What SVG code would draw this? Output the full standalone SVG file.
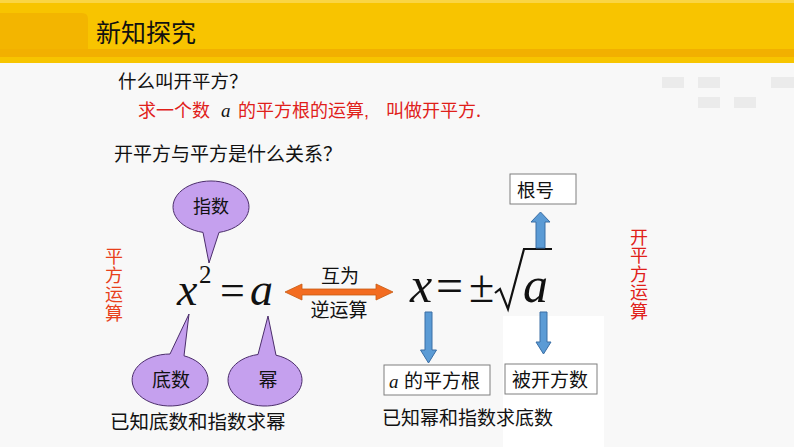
<svg xmlns="http://www.w3.org/2000/svg" width="794" height="447" viewBox="0 0 794 447">
<style>
.cjk{font-family:"Noto Sans CJK SC","Noto Sans",sans-serif;fill:#111}
.red{fill:#E0201A}
.vred{fill:#E8401C}
.vert{writing-mode:vertical-rl;font-family:"Noto Sans CJK SC","Noto Sans",sans-serif}
.math{font-family:"Liberation Serif","Times New Roman",serif;font-style:italic;fill:#111}
.mathr{font-family:"Liberation Serif","Times New Roman",serif;fill:#111}
.balloon{fill:#C5A0EE;stroke:#4B2D6B;stroke-width:1}
.blue{fill:#5B9BD5;stroke:#3A6EA5;stroke-width:1}
.box{fill:#fff;stroke:#7F7F7F;stroke-width:1}
.faint{fill:#EBEBEB}
</style>
<rect x="0" y="0" width="794" height="447" fill="#F8F8F8"/>
<rect x="503" y="316" width="101" height="131" fill="#FFFFFF"/>
<g id="decor">
<rect class="faint" x="662" y="77" width="22" height="11"/>
<rect class="faint" x="698" y="77" width="22" height="11"/>
<rect class="faint" x="771" y="77" width="23" height="11"/>
<rect class="faint" x="698" y="97" width="22" height="11"/>
<rect class="faint" x="734" y="97" width="22" height="11"/>
</g>
<g id="titlebar">
<rect x="0" y="0" width="794" height="63" fill="#F8C400"/>
<rect x="0" y="0" width="794" height="3" fill="#FAD545"/>
<rect x="0" y="49" width="794" height="8" fill="#F2B000"/>
<rect x="0" y="57" width="794" height="6" fill="#F7C500"/>
<path d="M0 13 H82 Q88 13 88 19 V49 H0 Z" fill="#F3B500"/>
<text class="cjk" x="96" y="42" font-size="25">新知探究</text>
</g>
<g id="questions">
<text class="cjk" x="118" y="88" font-size="18.5">什么叫开平方？</text>
<text class="cjk red" x="138" y="117" font-size="18">求一个数</text>
<text class="math red" x="221" y="117" font-size="19">a</text>
<text class="cjk red" x="238" y="117" font-size="18">的平方根的运算</text>
<text class="red" x="364" y="117" font-size="18" font-family="Liberation Sans, sans-serif">,</text>
<text class="cjk red" x="386" y="117" font-size="18">叫做开平方.</text>
<text class="cjk" x="114" y="161" font-size="19">开平方与平方是什么关系？</text>
</g>
<g id="label-pingfang">
<text class="vert vred" x="114" y="247" font-size="18" letter-spacing="1">平方运算</text>
</g>
<g id="label-kaipingfang">
<text class="vert red" x="639" y="228" font-size="18" letter-spacing="0.5">开平方运算</text>
</g>
<g id="balloon-zhishu">
<path class="balloon" d="M219 232.4 A38 26 0 1 0 203 232.4 L209 263 Z"/>
<text class="cjk" x="211" y="213" font-size="18" text-anchor="middle">指数</text>
</g>
<g id="balloon-dishu">
<path class="balloon" d="M170 354 L189 314 L184 355.8 A38 26 0 1 1 170 354 Z"/>
<text class="cjk" x="171" y="387" font-size="19" text-anchor="middle">底数</text>
</g>
<g id="balloon-mi">
<path class="balloon" d="M276 355.2 A37 26 0 1 1 258 354.5 L268 316 Z"/>
<text class="cjk" x="268" y="387" font-size="19" text-anchor="middle">幂</text>
</g>
<g id="formula-left">
<text class="math" x="177" y="305" font-size="46">x</text>
<text class="mathr" x="199" y="283" font-size="25">2</text>
<text class="mathr" x="220" y="305" font-size="44">=</text>
<text class="math" x="250" y="305" font-size="46">a</text>
</g>
<g id="formula-right">
<text class="math" x="410" y="302" font-size="50">x</text>
<text class="mathr" x="436" y="302" font-size="48">=</text>
<text class="mathr" x="469" y="302" font-size="46">±</text>
<path d="M495 293 L500 289 L508 309 L524 249 L552 249" fill="none" stroke="#111" stroke-width="2.2" stroke-linejoin="miter"/>
<text class="math" x="523" y="302" font-size="50">a</text>
</g>
<g id="label-huwei">
<text class="cjk" x="340" y="283" font-size="19" text-anchor="middle">互为</text>
<text class="cjk" x="339" y="317" font-size="19" text-anchor="middle">逆运算</text>
</g>
<g id="box-genhao">
<rect class="box" x="510" y="174" width="66" height="30"/>
<text class="cjk" x="517" y="197" font-size="18.5">根号</text>
</g>
<g id="box-pingfanggen">
<rect class="box" x="384" y="365" width="106" height="30"/>
<text class="math" x="389" y="388" font-size="19">a</text>
<text class="cjk" x="404" y="388" font-size="19">的平方根</text>
</g>
<g id="box-beikaifangshu">
<rect class="box" x="505" y="364" width="92" height="30"/>
<text class="cjk" x="512" y="387" font-size="19">被开方数</text>
</g>
<g id="bottom-texts">
<text class="cjk" x="110" y="429" font-size="19.5">已知底数和指数求幂</text>
<text class="cjk" x="382" y="425" font-size="19">已知幂和指数求底数</text>
</g>
<g id="connectors">
<path d="M285 292 L302 284 L302 289 L376 289 L376 284 L393 292 L376 300 L376 295 L302 295 L302 300 Z" fill="#F36C21" stroke="#C55A11" stroke-width="0.8"/>
<path class="blue" d="M536 248 L536 222 L531 222 L540.5 212 L550 222 L545 222 L545 248 Z"/>
<path class="blue" d="M425 312 L425 350 L420.5 350 L428.5 363 L436.5 350 L432 350 L432 312 Z"/>
<path class="blue" d="M540 312 L540 342 L536 342 L543.5 354 L551 342 L547 342 L547 312 Z"/>
</g>
</svg>
